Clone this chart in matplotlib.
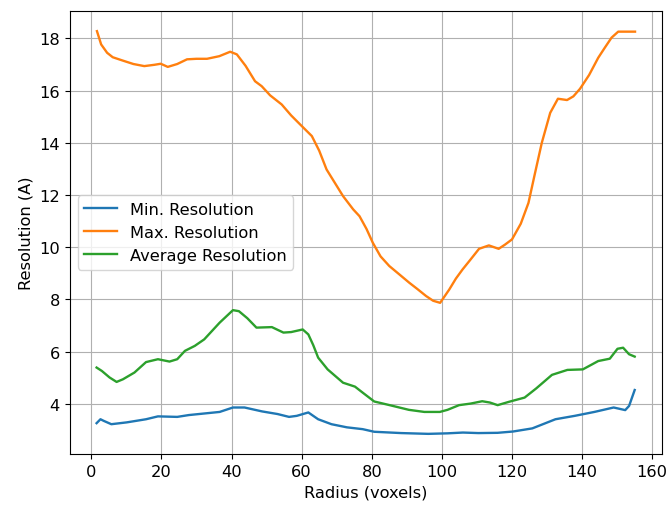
import matplotlib
matplotlib.use("Agg")
import matplotlib.pyplot as plt

r_max = [1.6, 2.8, 4.5, 6.1, 9.0, 12.0, 15.1, 18.0, 19.8, 21.8, 24.5, 27.3, 30.0, 33.0,
         36.5, 39.6, 41.5, 44.0, 46.7, 48.6, 51.0, 54.3, 57.0, 59.6, 62.9, 65.0, 67.1,
         71.8, 74.7, 76.5, 78.5, 80.3, 82.5, 85.0, 87.5, 90.7, 93.0, 95.5, 97.5, 99.5,
         102.1, 104.0, 105.9, 108.0, 110.6, 113.4, 116.2, 118.0, 120.0, 122.5, 124.7,
         126.5, 128.5, 130.9, 133.1, 135.7, 137.5, 139.4, 142.0, 144.6, 146.5, 148.4,
         150.3, 152.5, 155.1]
res_max = [18.28, 17.77, 17.45, 17.28, 17.15, 17.02, 16.94, 16.99, 17.03, 16.91, 17.02,
           17.2, 17.22, 17.22, 17.32, 17.49, 17.39, 16.95, 16.36, 16.17, 15.82, 15.47,
           15.05, 14.7, 14.26, 13.7, 12.98, 11.96, 11.45, 11.19, 10.7, 10.17, 9.65, 9.28,
           9.0, 8.64, 8.4, 8.13, 7.95, 7.87, 8.38, 8.8, 9.15, 9.5, 9.94, 10.07, 9.94, 10.1,
           10.3, 10.9, 11.7, 12.8, 14.0, 15.15, 15.69, 15.64, 15.78, 16.07, 16.6, 17.26,
           17.65, 18.03, 18.26, 18.26, 18.26]

r_avg = [1.5, 3.0, 5.2, 7.2, 9.0, 12.3, 15.6, 19.0, 22.3, 24.5, 26.7, 29.5, 32.2, 36.6,
         40.4, 42.1, 44.5, 47.1, 51.5, 54.8, 57.0, 60.3, 61.9, 63.3, 64.7, 67.4, 71.8,
         75.2, 77.4, 80.7, 85.1, 90.6, 95.0, 99.4, 101.6, 104.9, 108.2, 111.5, 113.7,
         115.9, 119.2, 123.6, 126.9, 131.4, 135.8, 140.2, 144.6, 147.9, 150.1, 151.7,
         153.4, 155.0]
res_avg = [5.39, 5.26, 5.01, 4.84, 4.94, 5.2, 5.6, 5.71, 5.62, 5.71, 6.03, 6.22, 6.47,
           7.11, 7.59, 7.55, 7.28, 6.92, 6.94, 6.73, 6.75, 6.85, 6.66, 6.25, 5.77, 5.32,
           4.81, 4.66, 4.43, 4.09, 3.95, 3.77, 3.69, 3.69, 3.77, 3.95, 4.01, 4.1, 4.05,
           3.95, 4.08, 4.24, 4.59, 5.11, 5.3, 5.32, 5.64, 5.73, 6.11, 6.15, 5.9, 5.81]

r_min = [1.5, 2.6, 3.5, 5.7, 10.1, 15.6, 19.0, 24.5, 27.8, 36.6, 40.4, 43.7, 48.7, 53.1,
         56.4, 58.6, 61.9, 64.7, 68.5, 72.9, 77.4, 80.7, 88.4, 96.1, 101.6, 106.0, 110.4,
         115.9, 120.3, 125.8, 132.4, 137.9, 143.5, 149.0, 152.3, 153.4, 155.0]
res_min = [3.26, 3.41, 3.35, 3.22, 3.29, 3.41, 3.52, 3.5, 3.57, 3.69, 3.86, 3.86, 3.71,
           3.61, 3.5, 3.54, 3.67, 3.41, 3.22, 3.1, 3.03, 2.93, 2.88, 2.85, 2.87, 2.9,
           2.88, 2.89, 2.94, 3.06, 3.41, 3.54, 3.69, 3.86, 3.76, 3.92, 4.53]

plt.rcParams["font.size"] = 11.7

fig = plt.figure(figsize=(6.7, 5.06), dpi=100)
ax = fig.add_axes([0.104, 0.1008, 0.884, 0.8755])

ax.plot(r_min, res_min, label="Min. Resolution", lw=1.7)
ax.plot(r_max, res_max, label="Max. Resolution", lw=1.7)
ax.plot(r_avg, res_avg, label="Average Resolution", lw=1.7)

ax.set_xlabel("Radius (voxels)")
ax.set_ylabel("Resolution (A)")
ax.grid(True)
ax.legend(loc="center left")

fig.savefig("out.png", dpi=100)
